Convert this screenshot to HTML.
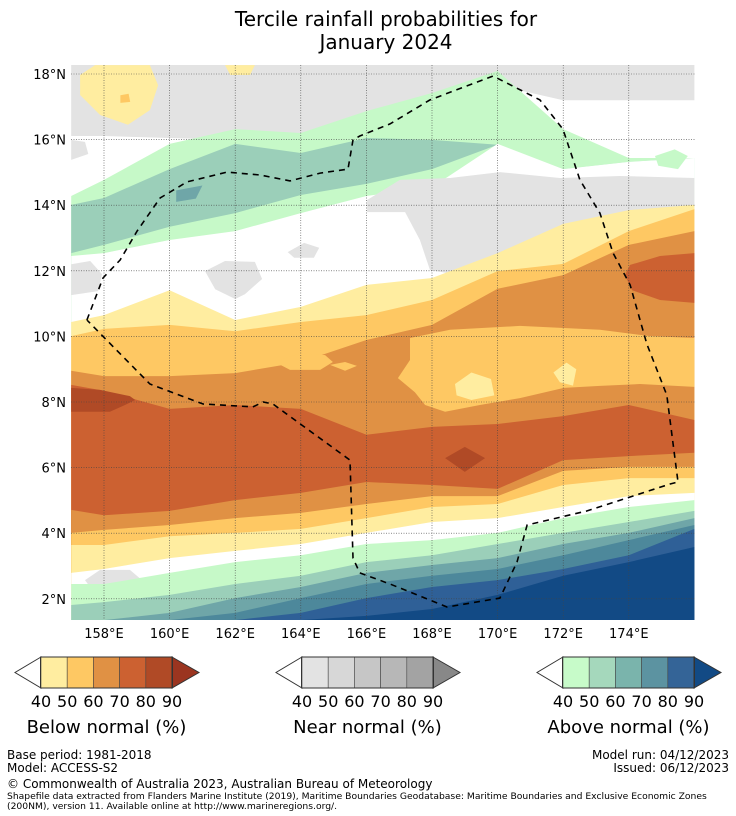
<!DOCTYPE html>
<html><head><meta charset="utf-8">
<style>
html,body{margin:0;padding:0;background:#fff;}
svg{display:block;font-family:"DejaVu Sans","Liberation Sans",sans-serif;}
</style></head>
<body>
<svg id="chart" width="736" height="816" viewBox="0 0 736 816">
  <defs><clipPath id="mapclip"><rect x="71" y="65" width="624" height="555"/></clipPath></defs>
  <text x="386" y="26" text-anchor="middle" font-size="20" fill="#000">Tercile rainfall probabilities for</text>
  <text x="386" y="49" text-anchor="middle" font-size="20" fill="#000">January 2024</text>
  <g id="map" clip-path="url(#mapclip)"></g>
  <g id="grid"></g>
  <g id="eez"></g>
  <g id="axes"></g>
  <g id="legends"></g>
  <g font-size="12" fill="#000">
    <text x="7" y="759">Base period: 1981-2018</text>
    <text x="7" y="772">Model: ACCESS-S2</text>
    <text x="729" y="759" text-anchor="end">Model run: 04/12/2023</text>
    <text x="729" y="772" text-anchor="end">Issued: 06/12/2023</text>
    <text x="7" y="788">© Commonwealth of Australia 2023, Australian Bureau of Meteorology</text>
    <text x="7" y="799" font-size="9.2">Shapefile data extracted from Flanders Marine Institute (2019), Maritime Boundaries Geodatabase: Maritime Boundaries and Exclusive Economic Zones</text>
    <text x="7" y="809" font-size="9.2">(200NM), version 11. Available online at http://www.marineregions.org/.</text>
  </g>
</svg>
<script>
// ---- data ----
const lons = [157,158,160,162,164,166,168,170,172,174,176];
const grayTopBottom = [16.11,16.11,16.05,15.99,16.2,16.2,17.2,17.66,17.2,17.2,17.2];
const a40TopN = [14.28,14.77,15.87,16.32,16.20,16.87,17.42,18.09,16.32,15.44,15.44];
const a50TopN = [14.01,14.22,15.10,15.87,15.59,16.05,15.99,15.84,15.10,15.32,15.44];
const a50BotN = [12.54,12.79,13.34,13.76,14.31,14.65,15.10,15.84,15.10,15.32,15.44];
const a40BotN = [12.45,12.54,12.94,13.21,13.76,14.28,14.55,15.87,15.10,15.32,15.44];
const b40Top = [10.44,10.65,11.41,10.50,10.90,11.57,11.78,12.54,13.43,13.85,14.01];
const b50Top = [10.01,10.23,10.35,10.16,10.44,10.65,11.11,11.99,12.21,13.21,13.88];
const b60Top = [8.95,8.79,8.79,8.88,9.22,9.89,10.35,11.45,11.87,12.79,13.21];
const b70Top = [8.52,8.34,7.79,7.91,7.79,7.00,7.24,7.33,7.57,7.91,7.45];
const b70Bot = [4.71,4.55,4.68,5.01,5.23,5.56,5.47,5.35,6.23,6.35,6.45];
const b60Bot = [4.01,4.10,4.25,4.46,4.62,4.89,5.13,5.13,5.90,6.02,6.02];
const b50Bot = [3.64,3.64,3.91,4.01,4.13,4.46,4.80,4.89,5.47,5.68,5.68];
const b40Bot = [2.79,2.91,3.24,3.46,3.67,4.01,4.34,4.46,4.80,5.13,5.23];
const a40Top = [2.45,2.45,2.79,3.12,3.33,3.67,3.79,4.01,4.46,4.80,5.01];
const a50Top = [1.81,1.90,2.12,2.45,2.70,3.12,3.33,3.67,4.01,4.34,4.68];
const a60Top = [1.35,1.35,1.57,2.02,2.36,2.79,3.03,3.24,3.67,4.01,4.46];
const a70Top = [1.35,1.35,1.35,1.57,2.02,2.45,2.70,2.91,3.33,3.79,4.25];
const a80Top = [1.35,1.35,1.35,1.35,1.57,2.02,2.36,2.57,2.91,3.33,4.13];
const a90Top = [1.35,1.35,1.35,1.35,1.35,1.48,1.69,2.12,2.70,3.12,3.58];

const grayMidRight = [[166.02,14.16],[167.02,14.77],[168.55,14.83],[170.07,15.01],[171.9,14.83],[173.73,14.89],[176,14.83],[176,11.72],[170.07,12.18],[168.85,11.87],[167.94,12.02],[167.63,12.94],[167.18,13.79],[166.02,13.79]];
const grayLeft12 = [[157,12.2],[157.58,12.3],[157.94,11.9],[157.82,11.38],[157,11.26]];
const grayBlob162 = [[161.08,11.99],[161.69,12.3],[162.6,12.27],[162.82,11.75],[162.3,11.29],[162.0,11.14],[161.39,11.44]];
const grayBlob164 = [[163.6,12.57],[164.1,12.85],[164.56,12.7],[164.4,12.4],[163.8,12.4]];
const grayLeft16 = [[157,15.99],[157.42,15.93],[157.52,15.56],[157,15.38]];
const grayUpper163 = [[163.0,16.05],[163.5,16.2],[164.1,16.1],[164.0,15.6],[163.3,15.6]];
const grayBottomLeft = [[157.42,2.57],[157.88,2.88],[158.79,2.88],[159.16,2.57],[158.79,2.21],[157.73,2.15]];
const greenPatchEast = [[174.8,15.5],[175.4,15.7],[175.8,15.5],[175.5,15.1],[174.9,15.2]];
const yellowTopLeft = [[157.27,17.97],[157.73,18.27],[159.4,18.27],[159.65,17.66],[159.4,16.9],[158.73,16.45],[157.88,16.75],[157.27,17.36]];
const yellowTop162 = [[161.69,18.27],[162.6,18.27],[162.45,17.97],[161.85,17.97]];
const orangeDotTopLeft = [[158.5,17.35],[158.75,17.4],[158.8,17.15],[158.5,17.12]];
const b50Tongue = [[167.33,9.95],[168.55,10.2],[170.68,10.32],[173.12,10.2],[174.65,10.01],[176,9.95],[176,8.46],[174.34,8.55],[173.12,8.49],[172.02,8.43],[170.68,8.12],[169.46,7.91],[168.4,7.7],[167.79,7.91],[167.48,8.3],[166.96,8.73],[167.33,9.28]];
const b40BlobA = [[168.7,8.55],[169.2,8.9],[169.8,8.7],[169.9,8.2],[169.2,8.06],[168.75,8.2]];
const b40BlobB = [[171.7,8.9],[172.1,9.2],[172.4,9.0],[172.3,8.5],[171.9,8.6]];
const b50BlobL1 = [[163.21,9.22],[163.98,9.49],[164.74,9.43],[164.98,9.22],[164.59,8.98],[163.67,8.98]];
const b50BlobL2 = [[164.89,9.13],[165.35,9.22],[165.71,9.1],[165.35,8.95]];
const b70RightBlob = [[174.04,12.18],[174.95,12.45],[176,12.54],[176,11.02],[174.95,11.11],[174.1,11.41],[173.88,11.87]];
const b80Left = [[157,8.43],[157.88,8.37],[158.79,8.18],[158.95,8.06],[158.64,7.91],[158.18,7.7],[157,7.7]];
const b80Right = [[168.4,6.29],[169.0,6.63],[169.62,6.29],[169.0,5.87]];
const a60Blob = [[160.2,14.45],[161.0,14.6],[160.8,14.2],[160.2,14.1]];

const eezLon = [157.48,157.97,158.49,159.01,159.71,160.53,161.75,162.76,163.67,164.59,165.44,165.59,165.80,166.72,167.94,169.86,171.29,171.99,172.51,173.12,173.52,174.04,174.55,175.16,175.50,175.26,172.73,170.90,170.59,170.07,168.46,166.72,165.80,165.59,165.50,165.29,163.15,162.85,162.54,161.02,159.40,157.48];
const eezLat = [10.50,11.78,12.33,13.21,14.22,14.71,15.01,14.92,14.74,14.98,15.10,15.99,16.11,16.48,17.21,17.94,17.21,16.32,14.77,13.76,12.54,11.57,9.77,8.21,5.56,5.50,4.68,4.25,3.12,2.02,1.75,2.45,2.79,3.24,6.23,6.38,7.94,8.00,7.85,7.94,8.55,10.50];

const lonTicks = [158,160,162,164,166,168,170,172,174];
const latTicks = [2,4,6,8,10,12,14,16,18];
const legendLevels = ["40","50","60","70","80","90"];
const belowColors = ["#ffeda0","#fec863","#e09144","#cc6131","#b04a26","#9b3520"];
const nearColors = ["#e3e3e3","#d7d7d7","#c6c6c6","#b7b7b7","#a3a3a3","#888888"];
const aboveColors = ["#c7fbc9","#a5d8bc","#7ab4ac","#5c93a1","#346497","#124a85"];

// ---- axes ----
const X = lon => 104 + (lon - 158) * 32.8;
const Y = lat => 74 + (18 - lat) * 32.8;
const NS = "http://www.w3.org/2000/svg";
function mk(tag, attrs, parent){ const e=document.createElementNS(NS,tag); for(const k in attrs) e.setAttribute(k,attrs[k]); parent.appendChild(e); return e; }
const map = document.getElementById('map');
const BOT = 1.2;

function fillBelow(lats, color, name){
  let d = 'M'+X(lons[0])+','+Y(BOT);
  lons.forEach((lo,i)=>{ d += ' L'+X(lo).toFixed(1)+','+Y(lats[i]).toFixed(1); });
  d += ' L'+X(lons[lons.length-1])+','+Y(BOT)+' Z';
  const p = mk('path',{d:d,fill:color},map);
  
  
}
function poly(pts, color, name){
  const d = pts.map((p,i)=>(i?'L':'M')+X(p[0]).toFixed(1)+','+Y(p[1]).toFixed(1)).join(' ')+' Z';
  const p = mk('path',{d:d,fill:color},map);
  
  
}
function fillAbove(lats, color, name){
  let d = 'M'+X(lons[0])+','+Y(19);
  lons.forEach((lo,i)=>{ d += ' L'+X(lo).toFixed(1)+','+Y(lats[i]).toFixed(1); });
  d += ' L'+X(lons[lons.length-1])+','+Y(19)+' Z';
  const p = mk('path',{d:d,fill:color},map);
  
  
}
const C = {b40:"#ffeda0",b50:"#fec863",b60:"#e09144",b70:"#cc6131",b80:"#b04a26",n40:"#e3e3e3",
  a40:"#c6f9c8",a50:"#9bcfb9",a60:"#6fa6a8",a70:"#4d889b",a80:"#2f6097",a90:"#124a85"};

mk('rect',{x:71,y:65,width:624,height:555,fill:'#fff'},map);
fillAbove(grayTopBottom, C.n40, 'near-normal-north-band');
poly(yellowTopLeft, C.b40, 'below40-blob-northwest');
poly(orangeDotTopLeft, C.b50, 'below50-dot-northwest');
poly(yellowTop162, C.b40, 'below40-blob-north');
poly(grayLeft16, C.n40, 'near40-blob-west16');
poly(grayUpper163, C.n40, 'near40-blob-163e');
fillBelow(a40TopN, C.a40, 'above40-north-band');
fillBelow(a50TopN, C.a50, 'above50-north-band');
poly(a60Blob, C.a60, 'above60-blob-north');
fillBelow(a50BotN, C.a40, 'above40-north-band-south');
fillBelow(a40BotN, '#ffffff', 'white-gap-north');
poly(greenPatchEast, C.a40, 'above40-patch-east');
poly(grayMidRight, C.n40, 'near40-band-east');
poly(grayLeft12, C.n40, 'near40-blob-west12');
poly(grayBlob162, C.n40, 'near40-blob-162e');
poly(grayBlob164, C.n40, 'near40-blob-164e');
fillBelow(b40Top, C.b40, 'below40-band');
fillBelow(b50Top, C.b50, 'below50-band');
fillBelow(b60Top, C.b60, 'below60-band');
poly(b70RightBlob, C.b70, 'below70-blob-east');
poly(b50Tongue, C.b50, 'below50-tongue');
poly(b40BlobA, C.b40, 'below40-blob-a');
poly(b40BlobB, C.b40, 'below40-blob-b');
poly(b50BlobL1, C.b50, 'below50-blob-l1');
poly(b50BlobL2, C.b50, 'below50-blob-l2');
fillBelow(b70Top, C.b70, 'below70-band');
poly(b80Left, C.b80, 'below80-blob-west');
poly(b80Right, C.b80, 'below80-blob-east');
fillBelow(b70Bot, C.b60, 'below60-band-south');
fillBelow(b60Bot, C.b50, 'below50-band-south');
fillBelow(b50Bot, C.b40, 'below40-band-south');
fillBelow(b40Bot, '#ffffff', 'white-gap-south');
poly(grayBottomLeft, C.n40, 'near40-blob-southwest');
fillBelow(a40Top, C.a40, 'above40-band');
fillBelow(a50Top, C.a50, 'above50-band');
fillBelow(a60Top, C.a60, 'above60-band');
fillBelow(a70Top, C.a70, 'above70-band');
fillBelow(a80Top, C.a80, 'above80-band');
fillBelow(a90Top, C.a90, 'above90-band');

// grid
const grid = document.getElementById('grid');
lonTicks.forEach(lo=>{ const l=mk('line',{x1:X(lo),x2:X(lo),y1:65,y2:620,stroke:'#444','stroke-width':0.6,'stroke-dasharray':'1,1.5'},grid);
  
   });
latTicks.forEach(la=>{ const l=mk('line',{x1:71,x2:695,y1:Y(la),y2:Y(la),stroke:'#444','stroke-width':0.6,'stroke-dasharray':'1,1.5'},grid);
  
   });

// eez
const eez = document.getElementById('eez');
const ed = eezLon.map((lo,i)=>(i?'L':'M')+X(lo).toFixed(1)+','+Y(eezLat[i]).toFixed(1)).join(' ');
const ep = mk('path',{d:ed,fill:'none',stroke:'#000','stroke-width':1.6,'stroke-dasharray':'6,5'},eez);



// axes labels
const axes = document.getElementById('axes');
lonTicks.forEach(lo=>{ const t=mk('text',{x:X(lo),y:638,'text-anchor':'middle','font-size':13},axes); t.textContent=lo+'°E';
  
   });
latTicks.forEach(la=>{ const t=mk('text',{x:66,y:Y(la)+5,'text-anchor':'end','font-size':13},axes); t.textContent=la+'°N';
  
   });

// legends
const lg = document.getElementById('legends');
function colorbar(x0, colors, title, name){
  const g = mk('g',{},lg);
  
  
  const w = 26.2, y0 = 657, h = 31, n = 5;
  mk('path',{d:`M${x0},${y0} L${x0-26},${y0+h/2} L${x0},${y0+h} Z`,fill:'#fff',stroke:'#333','stroke-width':1},g);
  for(let i=0;i<n;i++) mk('rect',{x:x0+i*w,y:y0,width:w,height:h,fill:colors[i],stroke:'#444','stroke-width':0.6},g);
  const xe = x0+n*w;
  mk('path',{d:`M${xe},${y0} L${xe+27},${y0+h/2} L${xe},${y0+h} Z`,fill:colors[5],stroke:'#333','stroke-width':1},g);
  mk('rect',{x:x0-0.5,y:y0,width:n*w+1,height:h,fill:'none',stroke:'#333','stroke-width':1},g);
  legendLevels.forEach((lv,i)=>{ const t=mk('text',{x:x0+i*w,y:707,'text-anchor':'middle','font-size':16},g); t.textContent=lv;
    
     });
  const tt=mk('text',{x:x0+n*w/2,y:733,'text-anchor':'middle','font-size':18},g); tt.textContent=title;
  
  
}
colorbar(41, belowColors, 'Below normal (%)', 'below-normal-colorbar');
colorbar(302, nearColors, 'Near normal (%)', 'near-normal-colorbar');
colorbar(563, aboveColors, 'Above normal (%)', 'above-normal-colorbar');
</script>
</body></html>
